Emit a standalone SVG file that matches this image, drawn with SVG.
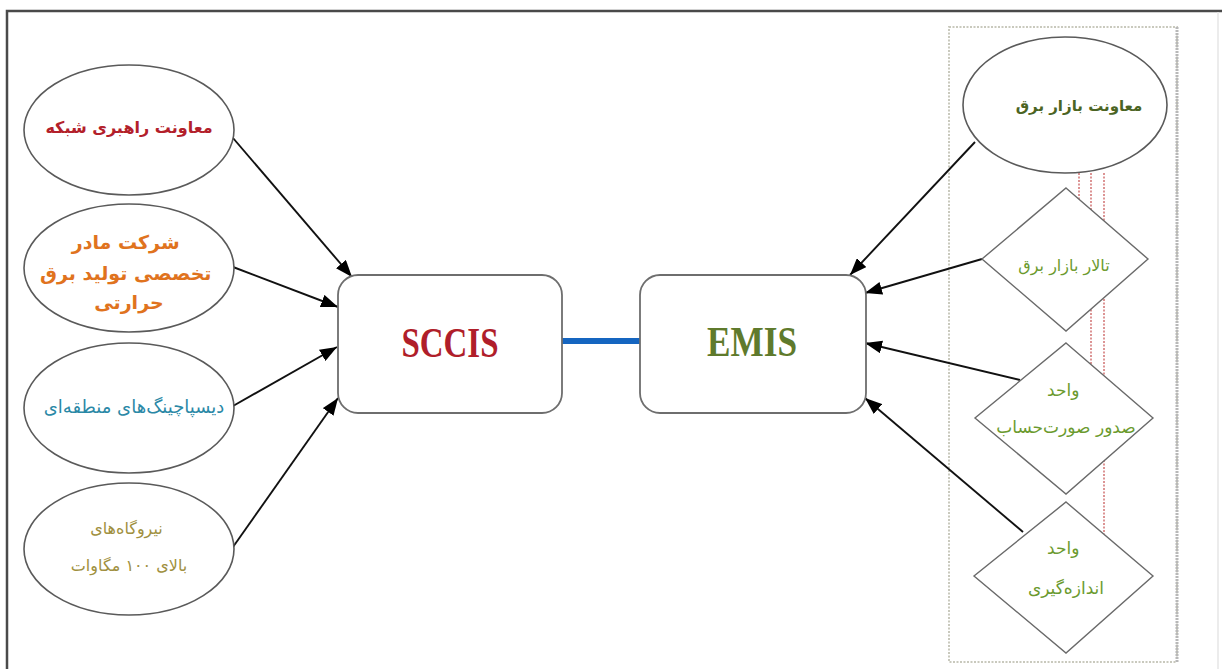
<svg xmlns="http://www.w3.org/2000/svg" width="1222" height="669" viewBox="0 0 1222 669">
  <defs>
    <marker id="arrow" markerUnits="userSpaceOnUse" markerWidth="17" markerHeight="13" viewBox="0 0 17 13" refX="17" refY="6.5" orient="auto">
      <path d="M0,0 L17,6.5 L0,13 Z" fill="#000"/>
    </marker>
    <style>
      .frame { fill: none; stroke: #4a4a4a; stroke-width: 2.5; }
      .ell { fill: #fff; stroke: #5a5a5a; stroke-width: 1.6; }
      .dia { fill: #fff; stroke: #6a6a6a; stroke-width: 1.4; }
      .box { fill: #fff; stroke: #6e6e6e; stroke-width: 1.8; }
      .edge { fill: none; stroke: #111; stroke-width: 1.9; marker-end: url(#arrow); }
      .fa { font-family: "DejaVu Sans", "Noto Sans", sans-serif; text-anchor: middle; }
      .title { font-family: "Liberation Serif", serif; font-weight: bold; text-anchor: middle; font-size: 43px; }
      .guide { fill: none; stroke: #d47a7a; stroke-width: 1.6; stroke-dasharray: 2 1.5; }
    </style>
  </defs>

  <!-- page frame -->
  <path class="frame" d="M7,669 V11 H1222"/>
  <line x1="1218" y1="12" x2="1218" y2="669" stroke="#e6e6e6" stroke-width="1.5"/>

  <!-- dotted group outline on the right -->
  <rect x="949" y="27" width="228" height="635" fill="none" stroke="#c9c9bd" stroke-width="2" stroke-dasharray="2 1.5"/>
  <line x1="1177" y1="27" x2="1177" y2="662" stroke="#b8b8b8" stroke-width="3" stroke-dasharray="2 1"/>

  <!-- red guide lines behind the diamonds -->
  <g id="guides">
    <line class="guide" x1="1079" y1="173" x2="1079" y2="310"/>
    <line class="guide" x1="1091" y1="173" x2="1091" y2="370"/>
    <line class="guide" x1="1104" y1="173" x2="1104" y2="534"/>
  </g>

  <!-- connectors -->
  <g id="connectors">
    <line x1="562" y1="341" x2="640" y2="341" stroke="#1565c0" stroke-width="6"/>
    <path class="edge" d="M233,138 L352,277"/>
    <path class="edge" d="M233,267 L338,307"/>
    <path class="edge" d="M233,406 L337,347"/>
    <path class="edge" d="M233,547 L338,398"/>
    <path class="edge" d="M975,142 L850,275"/>
    <path class="edge" d="M982,259 L865,293"/>
    <path class="edge" d="M1020,380 L865,343"/>
    <path class="edge" d="M1023,532 L865,398"/>
  </g>

  <!-- central systems -->
  <g id="sccis">
    <rect class="box" x="338" y="275" width="224" height="138" rx="20"/>
    <text class="title" x="450" y="357" fill="#b01e2a" textLength="97" lengthAdjust="spacingAndGlyphs">SCCIS</text>
  </g>
  <g id="emis">
    <rect class="box" x="640" y="275" width="226" height="138" rx="20"/>
    <text class="title" x="752" y="356" fill="#5f7a2c" textLength="90" lengthAdjust="spacingAndGlyphs">EMIS</text>
  </g>

  <!-- left-side sources -->
  <g id="grid-ops">
    <ellipse class="ell" cx="129" cy="130" rx="105" ry="65"/>
    <text class="fa" x="129" y="133" font-size="16" font-weight="bold" fill="#b3202a">معاونت راهبری شبکه</text>
  </g>
  <g id="thermal-gen">
    <ellipse class="ell" cx="129" cy="268" rx="105" ry="64"/>
    <text class="fa" font-size="19" font-weight="bold" fill="#e0731e">
      <tspan x="129" y="249">شرکت مادر</tspan>
      <tspan x="129" y="280">تخصصی تولید برق</tspan>
      <tspan x="129" y="309">حرارتی</tspan>
    </text>
  </g>
  <g id="regional-dispatch">
    <ellipse class="ell" cx="129" cy="408" rx="105" ry="65"/>
    <text class="fa" x="134" y="413" font-size="18" fill="#2a88a6">دیسپاچینگ‌های منطقه‌ای</text>
  </g>
  <g id="power-plants">
    <ellipse class="ell" cx="129" cy="549" rx="105" ry="66"/>
    <text class="fa" font-size="16" fill="#a0903e">
      <tspan x="129" y="534">نیروگاه‌های</tspan>
      <tspan x="129" y="571">بالای ۱۰۰ مگاوات</tspan>
    </text>
  </g>

  <!-- right-side sources -->
  <g id="market-dept">
    <ellipse class="ell" cx="1065" cy="105" rx="102" ry="68"/>
    <text class="fa" x="1079" y="111" font-size="15" font-weight="bold" fill="#4b6423">معاونت بازار برق</text>
  </g>
  <g id="market-hall">
    <polygon class="dia" points="1066,188 1148,259 1066,331 982,259"/>
    <text class="fa" x="1064" y="271" font-size="16" fill="#6b9a2e">تالار بازار برق</text>
  </g>
  <g id="billing-unit">
    <polygon class="dia" points="1066,343 1153,418 1066,494 975,418"/>
    <text class="fa" font-size="17" fill="#6b9a2e">
      <tspan x="1066" y="396">واحد</tspan>
      <tspan x="1066" y="433">صدور صورت‌حساب</tspan>
    </text>
  </g>
  <g id="metering-unit">
    <polygon class="dia" points="1066,502 1153,576 1066,653 974,576"/>
    <text class="fa" font-size="17" fill="#6b9a2e">
      <tspan x="1066" y="554">واحد</tspan>
      <tspan x="1066" y="594">اندازه‌گیری</tspan>
    </text>
  </g>
</svg>
